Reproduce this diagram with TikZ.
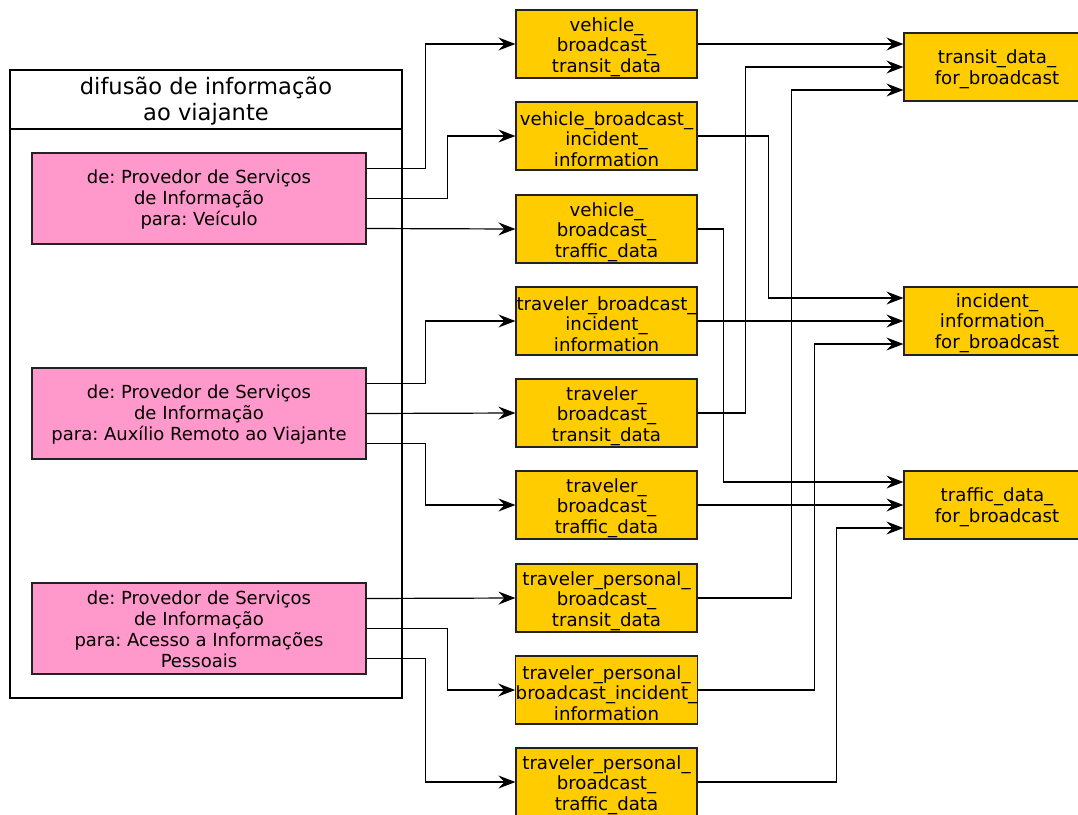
\documentclass[tikz,border=0pt]{standalone}
\usepackage{fontspec}
\setmainfont{DejaVu Sans}
\usetikzlibrary{arrows.meta,positioning}
\frenchspacing

\definecolor{srcpink}{HTML}{FF99CC}
\definecolor{msgyellow}{HTML}{FFCC00}
\definecolor{edge}{HTML}{222222}

% extra room above the text, so it sits a little lower in its box
\newcommand\toppad[1]{\vbox\bgroup\kern#1\hbox\bgroup}
\newcommand\toppadend{\egroup\egroup}

\tikzset{
  every node/.style={inner sep=0pt, align=center},
  padded/.style={execute at begin node={\toppad{#1}}, execute at end node={\toppadend}},
  srcbox/.style={draw=edge, line width=1.2pt, fill=srcpink, padded=2pt,
    minimum width=334pt, minimum height=91pt, font=\fontsize{18}{21}\selectfont},
  yellowbox/.style={draw=edge, line width=1.2pt, fill=msgyellow,
    minimum height=68pt, font=\fontsize{18.2}{20.5}\selectfont},
  msgbox/.style={yellowbox, minimum width=181pt, padded=6pt},
  sinkbox/.style={yellowbox, minimum width=186pt, padded=4pt},
  flow/.style={draw=black, line width=1.2pt,
    -{Stealth[length=17pt, width=13pt, inset=6pt]}},
}

\begin{document}
\begin{tikzpicture}[x=1pt, y=-1pt]
  \useasboundingbox (0,0) rectangle (1078,814);

  % container with its title
  \node[draw=black, line width=1.2pt, minimum width=392pt, minimum height=628pt]
    (bundle) at (206,384) {};
  \draw[line width=1.2pt] (10,129) -- (402,129);
  \node[font=\fontsize{22.6}{26}\selectfont] (title) at (206,101)
    {difusão de informação\\ao viajante};

  % sources
  \node[srcbox] (isp1) at (199,198.5)
    {de: Provedor de Serviços\\de Informação\\para: Veículo};
  \node[srcbox] (isp2) at (199,413.5)
    {de: Provedor de Serviços\\de Informação\\para: Auxílio Remoto ao Viajante};
  \node[srcbox] (isp3) at (199,628.5)
    {de: Provedor de Serviços\\de Informação\\para: Acesso a Informações\\Pessoais};

  % broadcast flows
  \foreach \nm/\yy/\txt in {
      vbtd/44/{vehicle\_\\broadcast\_\\transit\_data},
      vbii/136/{vehicle\_broadcast\_\\incident\_\\information},
      vbfd/229/{vehicle\_\\broadcast\_\\traffic\_data},
      tbii/321/{traveler\_broadcast\_\\incident\_\\information},
      tbtd/413/{traveler\_\\broadcast\_\\transit\_data},
      tbfd/505/{traveler\_\\broadcast\_\\traffic\_data},
      tpbtd/598/{traveler\_personal\_\\broadcast\_\\transit\_data},
      tpbii/690/{traveler\_personal\_\\broadcast\_incident\_\\information},
      tpbfd/782/{traveler\_personal\_\\broadcast\_\\traffic\_data}}
    \node[msgbox] (\nm) at (606.5,\yy) {\txt};

  % targets
  \node[sinkbox] (tdfb) at (997,67) {transit\_data\_\\for\_broadcast};
  \node[sinkbox] (iifb) at (997,321) {incident\_\\information\_\\for\_broadcast};
  \node[sinkbox] (fdfb) at (997,505) {traffic\_data\_\\for\_broadcast};

  % sources -> flows
  \draw[flow] ([yshift=30pt]isp1.east) -- ++(59,0) |- (vbtd.west);
  \draw[flow] (isp1.east) -- ++(81,0) |- (vbii.west);
  \draw[flow] ([yshift=-30pt]isp1.east) -- (vbfd.west);
  \draw[flow] ([yshift=30pt]isp2.east) -- ++(59,0) |- (tbii.west);
  \draw[flow] (isp2.east) -- (tbtd.west);
  \draw[flow] ([yshift=-30pt]isp2.east) -- ++(59,0) |- (tbfd.west);
  \draw[flow] ([yshift=30pt]isp3.east) -- (tpbtd.west);
  \draw[flow] (isp3.east) -- ++(81,0) |- (tpbii.west);
  \draw[flow] ([yshift=-30pt]isp3.east) -- ++(59,0) |- (tpbfd.west);

  % flows -> targets
  \draw[flow] (vbtd.east) -- ([yshift=23pt]tdfb.west);
  \draw[flow] (tbtd.east) -- ++(48,0) |- (tdfb.west);
  \draw[flow] (tpbtd.east) -- ++(94,0) |- ([yshift=-23pt]tdfb.west);
  \draw[flow] (vbii.east) -- ++(71,0) |- ([yshift=23pt]iifb.west);
  \draw[flow] (tbii.east) -- (iifb.west);
  \draw[flow] (tpbii.east) -- ++(117,0) |- ([yshift=-23pt]iifb.west);
  \draw[flow] (vbfd.east) -- ++(26,0) |- ([yshift=23pt]fdfb.west);
  \draw[flow] (tbfd.east) -- (fdfb.west);
  \draw[flow] (tpbfd.east) -- ++(139,0) |- ([yshift=-23pt]fdfb.west);
\end{tikzpicture}
\end{document}
